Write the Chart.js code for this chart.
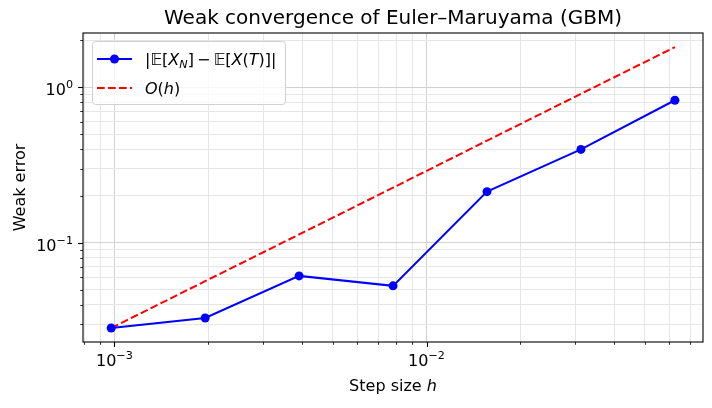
<!DOCTYPE html>
<html>
<head>
<meta charset="utf-8">
<script src="https://cdn.jsdelivr.net/npm/chart.js@4.4.1/dist/chart.umd.min.js"></script>
<style>
  html, body { margin: 0; padding: 0; background: #fff; }
  #wrap { width: 712px; height: 408px; }
</style>
</head>
<body>
<div id="wrap"><canvas id="chart" width="712" height="408"></canvas></div>
<script>
// données
const stepSizes = [0.0009765625, 0.001953125, 0.00390625, 0.0078125, 0.015625, 0.03125, 0.0625];
const weakErrors = [0.0283, 0.0328, 0.0612, 0.0528, 0.213, 0.398, 0.824];
const refOrder1 = [0.0283, 0.0566, 0.113, 0.226, 0.453, 0.906, 1.81];

// graduations principales : valeur, exposant affiché
const xMajorTicks = [0.001, 0.01];
const xMajorExp = ['\u22123', '\u22122'];
const yMajorTicks = [0.1, 1];
const yMajorExp = ['\u22121', '0'];
const decades = [-4, -3, -2, -1, 0, 1];

const FONT = '"DejaVu Sans", "Noto Sans", sans-serif';
const FS = 16;

function isMajor(v, majors) {
    return majors.some(m => Math.abs(v / m - 1) < 1e-6);
}

// toutes les graduations 1..9 x 10^n dans la plage
function logTicks(scale) {
    const out = [];
    decades.forEach(e => {
        for (let m = 1; m <= 9; m++) {
            const v = m * Math.pow(10, e);
            if (v >= scale.min && v <= scale.max) out.push({ value: v });
        }
    });
    scale.ticks = out;
}

function segFont(p) {
    return (p.italic ? 'italic ' : '') + (p.size || FS) + 'px ' + FONT;
}

function segWidth(ctx, parts) {
    let w = 0;
    parts.forEach(p => { ctx.font = segFont(p); w += ctx.measureText(p.t).width; });
    return w;
}

function drawSegments(ctx, x, y, parts) {
    parts.forEach(p => {
        ctx.font = segFont(p);
        ctx.fillText(p.t, x, y + (p.dy || 0));
        x += ctx.measureText(p.t).width;
    });
}

// "10" + exposant en petit, comme le mathtext
function powParts(exp) {
    return [{ t: '10' }, { t: exp, size: 11.2, dy: -7 }];
}

const decor = {
    id: 'decor',
    afterDraw(chart) {
        const { ctx, chartArea: a } = chart;
        const xs = chart.scales.x, ys = chart.scales.y;
        ctx.save();

        // cadre
        ctx.strokeStyle = '#000';
        ctx.lineWidth = 1.1;
        ctx.strokeRect(a.left, a.top, a.right - a.left, a.bottom - a.top);

        // graduations vers l'extérieur
        xs.ticks.forEach(t => {
            const maj = isMajor(t.value, xMajorTicks);
            const px = Math.round(xs.getPixelForValue(t.value)) + 0.5;
            ctx.lineWidth = maj ? 1.1 : 0.8;
            ctx.beginPath();
            ctx.moveTo(px, a.bottom);
            ctx.lineTo(px, a.bottom + (maj ? 4.9 : 2.8));
            ctx.stroke();
        });
        ys.ticks.forEach(t => {
            const maj = isMajor(t.value, yMajorTicks);
            const py = Math.round(ys.getPixelForValue(t.value)) + 0.5;
            ctx.lineWidth = maj ? 1.1 : 0.8;
            ctx.beginPath();
            ctx.moveTo(a.left, py);
            ctx.lineTo(a.left - (maj ? 4.9 : 2.8), py);
            ctx.stroke();
        });

        ctx.fillStyle = '#000';
        ctx.textBaseline = 'alphabetic';
        ctx.textAlign = 'left';

        // étiquettes des graduations
        xMajorTicks.forEach((v, i) => {
            const parts = powParts(xMajorExp[i]);
            const w = segWidth(ctx, parts);
            drawSegments(ctx, xs.getPixelForValue(v) - w / 2, a.bottom + 24, parts);
        });
        yMajorTicks.forEach((v, i) => {
            const parts = powParts(yMajorExp[i]);
            const w = segWidth(ctx, parts);
            drawSegments(ctx, a.left - 10 - w, ys.getPixelForValue(v) + 8, parts);
        });

        // titre
        ctx.textAlign = 'center';
        ctx.font = '20px ' + FONT;
        ctx.fillText('Weak convergence of Euler\u2013Maruyama (GBM)', (a.left + a.right) / 2, 24);

        // titre axe x avec h en italique
        ctx.textAlign = 'left';
        const xt = [{ t: 'Step size ' }, { t: 'h', italic: true }];
        drawSegments(ctx, (a.left + a.right) / 2 - segWidth(ctx, xt) / 2, 391, xt);

        // titre axe y
        ctx.save();
        ctx.translate(25, (a.top + a.bottom) / 2);
        ctx.rotate(-Math.PI / 2);
        ctx.textAlign = 'center';
        ctx.font = FS + 'px ' + FONT;
        ctx.fillText('Weak error', 0, 0);
        ctx.restore();

        // légende
        const lx = a.left + 9, ly = a.top + 8, lw = 193, lh = 63;
        ctx.fillStyle = 'rgba(255,255,255,0.8)';
        ctx.strokeStyle = '#d0d0d0';
        ctx.lineWidth = 1;
        ctx.beginPath();
        ctx.roundRect(lx + 0.5, ly + 0.5, lw, lh, 3);
        ctx.fill();
        ctx.stroke();

        const r1 = ly + 18, r2 = ly + 47;
        ctx.strokeStyle = '#0000ff';
        ctx.lineWidth = 2;
        ctx.beginPath();
        ctx.moveTo(lx + 5, r1);
        ctx.lineTo(lx + 40, r1);
        ctx.stroke();
        ctx.fillStyle = '#0000ff';
        ctx.beginPath();
        ctx.arc(lx + 22.5, r1, 4.5, 0, Math.PI * 2);
        ctx.fill();

        ctx.strokeStyle = '#ff0000';
        ctx.setLineDash([7.7, 3.3]);
        ctx.beginPath();
        ctx.moveTo(lx + 5, r2);
        ctx.lineTo(lx + 40, r2);
        ctx.stroke();
        ctx.setLineDash([]);

        ctx.fillStyle = '#000';
        const tx = lx + 53;
        drawSegments(ctx, tx, r1 + 6, [
            { t: '|\uD835\uDD3C[' }, { t: 'X', italic: true },
            { t: 'N', italic: true, size: 11.2, dy: 3 },
            { t: ']\u2009\u2212\u2009\uD835\uDD3C[' }, { t: 'X', italic: true },
            { t: '(' }, { t: 'T', italic: true }, { t: ')]|' }
        ]);
        drawSegments(ctx, tx, r2 + 6, [
            { t: 'O', italic: true }, { t: '(' }, { t: 'h', italic: true }, { t: ')' }
        ]);

        ctx.restore();
    }
};

const gridColor = majors => c => (c.tick && isMajor(c.tick.value, majors)) ? '#d2d2d2' : '#e6e6e6';

new Chart(document.getElementById('chart'), {
    type: 'line',
    data: {
        datasets: [
            {
                label: '|E[X_N] - E[X(T)]|',
                data: stepSizes.map((h, i) => ({ x: h, y: weakErrors[i] })),
                borderColor: '#0000ff',
                backgroundColor: '#0000ff',
                borderWidth: 2,
                pointRadius: 4.5,
                pointBorderWidth: 0,
                tension: 0
            },
            {
                label: 'O(h)',
                data: stepSizes.map((h, i) => ({ x: h, y: refOrder1[i] })),
                borderColor: '#ff0000',
                borderWidth: 2,
                borderDash: [7.7, 3.3],
                pointRadius: 0,
                tension: 0
            }
        ]
    },
    options: {
        responsive: false,
        animation: false,
        events: [],
        layout: { padding: { top: 33, right: 9, left: 0, bottom: 0 } },
        plugins: {
            legend: { display: false },
            title: { display: false },
            tooltip: { enabled: false }
        },
        scales: {
            x: {
                type: 'logarithmic',
                min: 0.000793,
                max: 0.0769,
                afterBuildTicks: logTicks,
                afterFit: s => { s.height = 66; },
                grid: { color: gridColor(xMajorTicks), lineWidth: 1, drawTicks: false },
                border: { display: false },
                ticks: { display: false, autoSkip: false }
            },
            y: {
                type: 'logarithmic',
                min: 0.0230,
                max: 2.23,
                afterBuildTicks: logTicks,
                afterFit: s => { s.width = 83; },
                grid: { color: gridColor(yMajorTicks), lineWidth: 1, drawTicks: false },
                border: { display: false },
                ticks: { display: false, autoSkip: false }
            }
        }
    },
    plugins: [decor]
});
</script>
</body>
</html>
